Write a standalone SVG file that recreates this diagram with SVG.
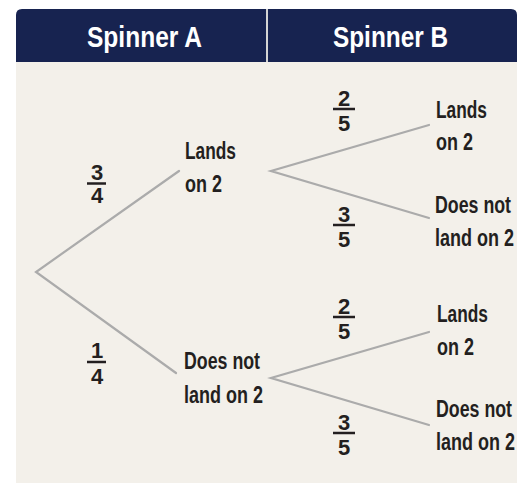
<svg xmlns="http://www.w3.org/2000/svg" width="530" height="484" viewBox="0 0 530 484">
<style>
.hd{font-family:"Liberation Sans",Arial,sans-serif;font-weight:bold;font-size:30px;fill:#ffffff}
.lb{font-family:"Liberation Sans",Arial,sans-serif;font-weight:bold;font-size:23px;fill:#231f20}
.fr{font-family:"Liberation Sans",Arial,sans-serif;font-weight:bold;font-size:22px;fill:#231f20;text-anchor:middle}
.bar{stroke:#231f20;stroke-width:2.5}
.br{stroke:#ababab;stroke-width:2.2;fill:none;stroke-linecap:round}
</style>
<rect width="530" height="484" fill="#ffffff"/>
<rect x="16" y="62" width="501" height="421" fill="#f3f0ea"/>
<g id="header">
<path d="M16,62 V15 Q16,9 22,9 H511 Q517,9 517,15 V62 Z" fill="#172350"/>
<line x1="267" y1="9" x2="267" y2="62" stroke="#d4d4d4" stroke-width="2"/>
<text class="hd" x="87" y="47" textLength="115" lengthAdjust="spacingAndGlyphs">Spinner A</text>
<text class="hd" x="333" y="47" textLength="115" lengthAdjust="spacingAndGlyphs">Spinner B</text>
</g>
<g id="connectors">
<polyline class="br" points="179,171 36,272 176,373"/>
<polyline class="br" points="429,125 271,171 429,218"/>
<polyline class="br" points="429,332 271,378 429,425"/>
</g>
<g id="frac-a1">
<text class="fr" x="97" y="180">3</text>
<line class="bar" x1="87" y1="183.5" x2="106" y2="183.5"/>
<text class="fr" x="97" y="203">4</text>
</g>
<g id="frac-a2">
<text class="fr" x="97" y="358">1</text>
<line class="bar" x1="87" y1="362" x2="106" y2="362"/>
<text class="fr" x="97" y="384">4</text>
</g>
<g id="frac-b1">
<text class="fr" x="344" y="106">2</text>
<line class="bar" x1="333" y1="109" x2="355" y2="109"/>
<text class="fr" x="344" y="131">5</text>
</g>
<g id="frac-b2">
<text class="fr" x="344" y="222">3</text>
<line class="bar" x1="333" y1="225" x2="355" y2="225"/>
<text class="fr" x="344" y="247">5</text>
</g>
<g id="frac-b3">
<text class="fr" x="344" y="314">2</text>
<line class="bar" x1="333" y1="317" x2="355" y2="317"/>
<text class="fr" x="344" y="339">5</text>
</g>
<g id="frac-b4">
<text class="fr" x="344" y="430">3</text>
<line class="bar" x1="333" y1="433" x2="355" y2="433"/>
<text class="fr" x="344" y="455">5</text>
</g>
<g id="node-a-lands">
<text class="lb" x="185" y="159" textLength="51" lengthAdjust="spacingAndGlyphs">Lands</text>
<text class="lb" x="185" y="191.5" textLength="37" lengthAdjust="spacingAndGlyphs">on 2</text>
</g>
<g id="node-a-not">
<text class="lb" x="184" y="369" textLength="76" lengthAdjust="spacingAndGlyphs">Does not</text>
<text class="lb" x="184" y="402.5" textLength="79" lengthAdjust="spacingAndGlyphs">land on 2</text>
</g>
<g id="node-b1-lands">
<text class="lb" x="436" y="118" textLength="51" lengthAdjust="spacingAndGlyphs">Lands</text>
<text class="lb" x="436" y="150" textLength="37" lengthAdjust="spacingAndGlyphs">on 2</text>
</g>
<g id="node-b1-not">
<text class="lb" x="435" y="213" textLength="76" lengthAdjust="spacingAndGlyphs">Does not</text>
<text class="lb" x="435" y="245.5" textLength="79" lengthAdjust="spacingAndGlyphs">land on 2</text>
</g>
<g id="node-b2-lands">
<text class="lb" x="437" y="322" textLength="51" lengthAdjust="spacingAndGlyphs">Lands</text>
<text class="lb" x="437" y="355" textLength="37" lengthAdjust="spacingAndGlyphs">on 2</text>
</g>
<g id="node-b2-not">
<text class="lb" x="436" y="417" textLength="76" lengthAdjust="spacingAndGlyphs">Does not</text>
<text class="lb" x="436" y="450" textLength="79" lengthAdjust="spacingAndGlyphs">land on 2</text>
</g>
</svg>
